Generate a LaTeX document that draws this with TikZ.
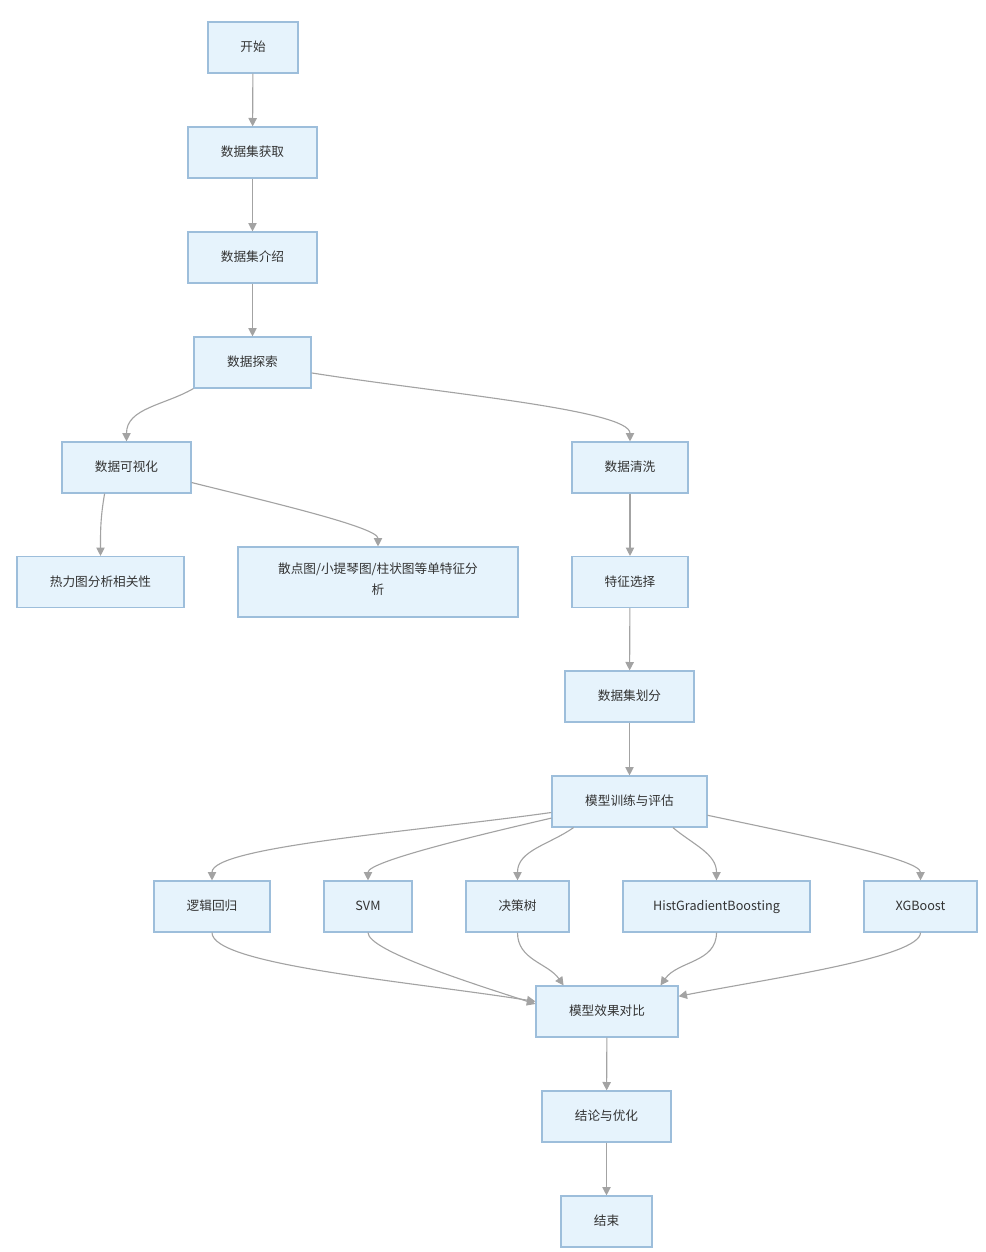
\documentclass[tikz,border=0pt]{standalone}
\usepackage{fontspec}
\setmainfont{Noto Sans CJK SC}
\usepackage{xcolor}
\usepackage{tikz}
\usetikzlibrary{arrows.meta}
\definecolor{boxfill}{HTML}{E6F3FC}
\definecolor{boxline}{HTML}{9DBEDB}
\definecolor{linegray}{HTML}{A3A3A3}
\definecolor{textgray}{HTML}{333333}

\begin{document}
\begin{tikzpicture}[
    x=0.025cm, y=-0.025cm,
    box/.style={rectangle, draw=boxline, fill=boxfill, line width=0.8pt, minimum height=1.275cm, align=center, text=textgray, font=\fontsize{9}{15}\selectfont, execute at begin node=\strut, execute at end node=\strut},
    arrow/.style={-{Triangle[length=6pt,width=6pt]}, draw=linegray, line width=0.8pt},
    bendin/.style={out looseness=1, in looseness=0.25},
    bendout/.style={out looseness=0.25, in looseness=1}
]
\useasboundingbox (0,0) rectangle (986,1252);

% Data preparation
\node[box, minimum width=2.25cm] (start) at (253,47.5) {开始};
\node[box, minimum width=3.225cm] (get) at (252.5,152.5) {数据集获取};
\node[box, minimum width=3.225cm] (intro) at (252.5,257.5) {数据集介绍};
\node[box, minimum width=2.925cm] (explore) at (252.5,362.5) {数据探索};

% Exploration branch
\node[box, minimum width=3.225cm] (viz) at (126.5,467.5) {数据可视化};
\node[box, minimum width=4.175cm] (heat) at (100.5,582) {热力图分析相关性};
\node[box, minimum width=7cm, minimum height=1.75cm] (scatter) at (378,582) {散点图/小提琴图/柱状图等单特征分\\析};

% Cleaning branch
\node[box, minimum width=2.9cm] (clean) at (630,467.5) {数据清洗};
\node[box, minimum width=2.9cm] (feat) at (630,582) {特征选择};
\node[box, minimum width=3.225cm] (split) at (629.5,696.5) {数据集划分};
\node[box, minimum width=3.875cm] (train) at (629.5,801.5) {模型训练与评估};

% Models
\node[box, minimum width=2.9cm] (lr) at (212,906.5) {逻辑回归};
\node[box, minimum width=2.2cm] (svm) at (368,906.5) {SVM};
\node[box, minimum width=2.575cm] (tree) at (517.5,906.5) {决策树};
\node[box, minimum width=4.675cm] (hgb) at (716.5,906.5) {HistGradientBoosting};
\node[box, minimum width=2.825cm] (xgb) at (920.5,906.5) {XGBoost};

% Result
\node[box, minimum width=3.55cm] (cmp) at (607,1011.5) {模型效果对比};
\node[box, minimum width=3.225cm] (concl) at (606.5,1116.5) {结论与优化};
\node[box, minimum width=2.275cm] (fin) at (606.5,1221.5) {结束};

% Arrows
\draw[arrow] (start) -- (get);
\draw[arrow] (get) -- (intro);
\draw[arrow] (intro) -- (explore);
\draw[arrow] (explore.south west) to[out=-150, in=90] (viz.north);
\draw[arrow] (explore.-10) to[out=-9, in=90, bendin] (clean.north);
\draw[arrow] (viz.-130) to[out=-100, in=90] (heat.north);
\draw[arrow] (viz.-13) to[out=-14, in=90, bendin] (scatter.north);
\draw[arrow] (clean) -- (feat);
\draw[arrow] (feat) -- (split);
\draw[arrow] (split) -- (train);

\draw[arrow] (train.-172) to[out=-172, in=90, bendin] (lr.north);
\draw[arrow] (train.-168) to[out=-167, in=90, bendin] (svm.north);
\draw[arrow] (train.-155) to[out=-145, in=90] (tree.north);
\draw[arrow] (train.-31) to[out=-40, in=90] (hgb.north);
\draw[arrow] (train.-10) to[out=-12, in=90, bendin] (xgb.north);

\draw[arrow] (lr.south) to[out=-90, in=171, bendout] (cmp.172);
\draw[arrow] (svm.south) to[out=-90, in=162, bendout] (cmp.174);
\draw[arrow] (tree.south) to[out=-90, in=125] (cmp.149);
\draw[arrow] (hgb.south) to[out=-90, in=55] (cmp.26);
\draw[arrow] (xgb.south) to[out=-90, in=11, bendout] (cmp.12);
\draw[arrow] (cmp) -- (concl);
\draw[arrow] (concl) -- (fin);

\end{tikzpicture}
\end{document}
